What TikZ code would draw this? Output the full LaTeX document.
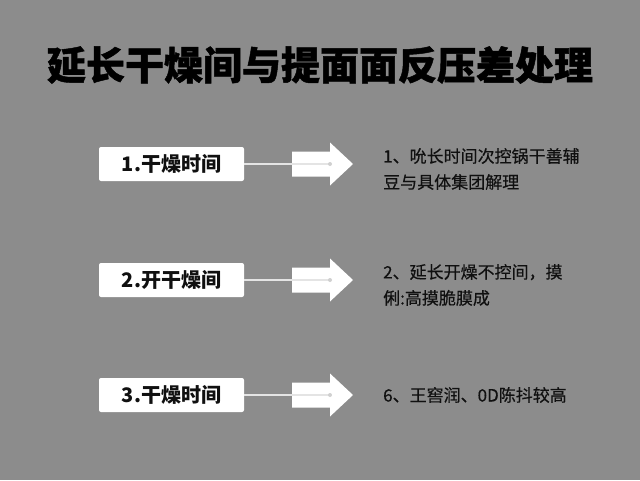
\documentclass[tikz,border=0pt]{standalone}
\usepackage{fontspec}
\setmainfont{Noto Sans CJK SC}
\definecolor{bgc}{HTML}{8C8C8C}
\definecolor{linec}{HTML}{E4E4E4}
\definecolor{txtc}{HTML}{101010}
\begin{document}
\begin{tikzpicture}[x=1pt,y=-1pt,
  titlestyle/.style={font=\fontsize{39}{41}\selectfont\bfseries\addfontfeature{FakeBold=1.2}, text=black, inner sep=0},
  stepbox/.style={draw=none, fill=white, rounded corners=2pt, minimum width=145pt, minimum height=34pt, inner sep=0, font=\fontsize{20}{22}\selectfont\bfseries, text=txtc},
  conn/.style={draw=linec, line width=2pt},
  bigarrow/.style={fill=white, draw=none},
  desc/.style={anchor=west, align=left, inner sep=0, font=\fontsize{17}{26}\selectfont\addfontfeature{FakeBold=0.4}, text=txtc}]
\fill[bgc] (0,0) rectangle (640,480);
\useasboundingbox (0,0) rectangle (640,480);

\node[titlestyle] (title) at (320,65) {延长干燥间与提面面反压差处理};

\node[stepbox] (b1) at (171.5,164) {1.干燥时间};
\node[stepbox] (b2) at (171.5,280) {2.开干燥间};
\node[stepbox] (b3) at (171.5,395) {3.干燥时间};

\foreach \n/\y in {1/164,2/280,3/395}{
  \fill[bigarrow] (292,\y-12.5) -- (330,\y-12.5) -- (330,\y-21.5) -- (353,\y) -- (330,\y+21.5) -- (330,\y+12.5) -- (292,\y+12.5) -- cycle;
  \coordinate (d\n) at (330,\y);
}
\draw[conn] (b1.east) -- (d1);
\draw[conn] (b2.east) -- (d2);
\draw[conn] (b3.east) -- (d3);
\fill[linec!80!gray] (d1) circle (2pt);
\fill[linec!80!gray] (d2) circle (2pt);
\fill[linec!80!gray] (d3) circle (2pt);

\node[desc] (t1) at (383,169) {1、吮长时间次控锅干善辅\\豆与具体集团解理};
\node[desc] (t2) at (383,285) {2、延长开燥不控间，摸\\俐:高摸脆膜成};
\node[desc] (t3) at (383,395) {6、王窖润、0D陈抖较高};
\end{tikzpicture}
\end{document}
